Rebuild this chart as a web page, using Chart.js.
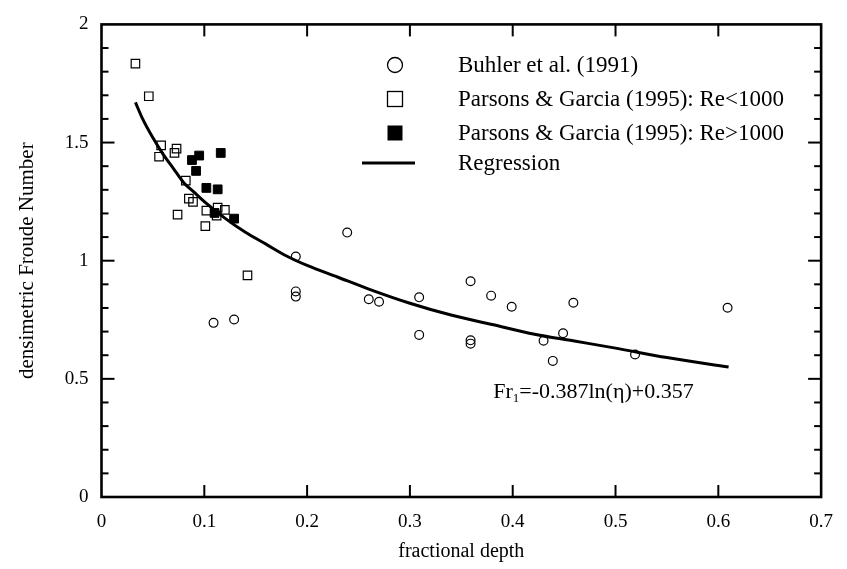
<!DOCTYPE html>
<html><head><meta charset="utf-8">
<script src="https://cdn.jsdelivr.net/npm/chart.js@4.4.1/dist/chart.umd.min.js"></script>
<style>html,body{margin:0;padding:0;background:#fff}#wrap{width:847px;height:569px}</style>
</head><body><div id="wrap"><canvas id="c" width="847" height="569"></canvas></div>
<script>
// ---- data ----
const seriesLabels = ['Buhler et al. (1991)', 'Parsons & Garcia (1995): Re<1000', 'Parsons & Garcia (1995): Re>1000', 'Regression'];
const buhlerX = [0.109, 0.129, 0.189, 0.189, 0.189, 0.239, 0.260, 0.270, 0.309, 0.309, 0.359, 0.359, 0.359, 0.379, 0.399, 0.459, 0.430, 0.449, 0.439, 0.519, 0.609];
const buhlerY = [0.737, 0.751, 1.018, 0.870, 0.848, 1.119, 0.837, 0.826, 0.845, 0.686, 0.913, 0.663, 0.649, 0.852, 0.805, 0.822, 0.661, 0.693, 0.576, 0.603, 0.801];
const pgLowX = [0.033, 0.046, 0.058, 0.056, 0.071, 0.073, 0.082, 0.085, 0.089, 0.074, 0.102, 0.113, 0.120, 0.112, 0.101, 0.142];
const pgLowY = [1.834, 1.696, 1.488, 1.440, 1.456, 1.474, 1.339, 1.263, 1.249, 1.195, 1.212, 1.225, 1.215, 1.191, 1.146, 0.938];
const pgHighX = [0.088, 0.095, 0.116, 0.092, 0.102, 0.113, 0.129, 0.110];
const pgHighY = [1.426, 1.445, 1.456, 1.380, 1.308, 1.302, 1.178, 1.202];
const regX = [0.033, 0.04, 0.05, 0.06, 0.07, 0.08, 0.09, 0.10, 0.12, 0.14, 0.16, 0.18, 0.20, 0.23, 0.26, 0.30, 0.34, 0.38, 0.42, 0.46, 0.50, 0.55, 0.61];
const regY = [1.67, 1.60, 1.52, 1.45, 1.39, 1.33, 1.29, 1.25, 1.18, 1.12, 1.07, 1.02, 0.98, 0.93, 0.88, 0.82, 0.77, 0.73, 0.69, 0.66, 0.63, 0.59, 0.55];
const xTickLabels = ['0', '0.1', '0.2', '0.3', '0.4', '0.5', '0.6', '0.7'];
const yTickLabels = ['0', '0.5', '1', '1.5', '2'];
const xTitle = 'fractional depth';
const yTitle = 'densimetric Froude Number';
const eqMain = 'Fr', eqSub = '1', eqRest = '=-0.387ln(\u03b7)+0.357';

const pts = (xs, ys) => xs.map((v, i) => ({x: v, y: ys[i]}));
const FONT = '"Liberation Serif", "Times New Roman", serif';

const frameTicks = {
  id: 'frameTicks',
  afterDraw(chart) {
    const {ctx, chartArea: {left, right, top, bottom}, scales: {x, y}} = chart;
    ctx.save();
    ctx.strokeStyle = '#000';
    ctx.lineWidth = 2.6;
    ctx.strokeRect(left, top, right - left, bottom - top);
    ctx.lineWidth = 2;
    const line = (a, b, c, d) => { ctx.beginPath(); ctx.moveTo(a, b); ctx.lineTo(c, d); ctx.stroke(); };
    x.ticks.forEach(t => {
      if (t.value <= 1e-9 || t.value >= 0.7 - 1e-9) return;
      const px = x.getPixelForValue(t.value);
      line(px, bottom, px, bottom - 12);
      line(px, top, px, top + 12);
    });
    y.ticks.forEach(t => {
      if (t.value <= 1e-9 || t.value >= 2 - 1e-9) return;
      const py = y.getPixelForValue(t.value);
      const len = t.label !== '' ? 13 : 7;
      line(left, py, left + len, py);
      line(right, py, right - len, py);
    });
    // legend
    const ds = chart.data.datasets;
    const rows = [65, 99, 133, 163];
    const sx = 395, tx = 458;
    ctx.font = '23px ' + FONT;
    ctx.fillStyle = '#000';
    ctx.textBaseline = 'middle';
    ctx.textAlign = 'left';
    ctx.lineWidth = 1.3;
    ctx.beginPath(); ctx.arc(sx, rows[0], 7.5, 0, Math.PI * 2); ctx.stroke();
    ctx.strokeRect(sx - 7.5, rows[1] - 7.5, 15, 15);
    ctx.fillRect(sx - 7.5, rows[2] - 7.5, 15, 15);
    ctx.lineWidth = 2.8;
    line(362, rows[3], 415, rows[3]);
    ds.forEach((d, i) => ctx.fillText(d.label, tx, rows[i] + 1));
    // equation
    const ex = x.getPixelForValue(0.381), ey = y.getPixelForValue(0.418);
    ctx.textBaseline = 'alphabetic';
    ctx.font = '22px ' + FONT;
    ctx.fillText(eqMain, ex, ey);
    let w = ctx.measureText(eqMain).width;
    ctx.font = '13px ' + FONT;
    ctx.fillText(eqSub, ex + w, ey + 4);
    w += ctx.measureText(eqSub).width;
    ctx.font = '22px ' + FONT;
    ctx.fillText(eqRest, ex + w, ey);
    ctx.restore();
  }
};

new Chart(document.getElementById('c'), {
  type: 'scatter',
  data: {
    datasets: [
      {label: seriesLabels[0], data: pts(buhlerX, buhlerY), pointStyle: 'circle', pointRadius: 4.4, borderColor: '#000', backgroundColor: 'rgba(0,0,0,0)', borderWidth: 1.2},
      {label: seriesLabels[1], data: pts(pgLowX, pgLowY), pointStyle: 'rect', pointRadius: 6, borderColor: '#000', backgroundColor: 'rgba(0,0,0,0)', borderWidth: 1.2},
      {label: seriesLabels[2], data: pts(pgHighX, pgHighY), pointStyle: 'rect', pointRadius: 6.2, borderColor: '#000', backgroundColor: '#000', borderWidth: 1},
      {label: seriesLabels[3], data: pts(regX, regY), type: 'line', showLine: true, pointRadius: 0, borderColor: '#000', borderWidth: 3, cubicInterpolationMode: 'monotone', fill: false}
    ]
  },
  options: {
    responsive: false,
    animation: false,
    devicePixelRatio: 1,
    layout: {padding: {left: 0, right: 17, top: 15, bottom: 0}},
    plugins: {legend: {display: false}, tooltip: {enabled: false}},
    scales: {
      x: {
        type: 'linear', min: 0, max: 0.7,
        grid: {display: false, drawTicks: false},
        border: {display: false},
        ticks: {stepSize: 0.1, autoSkip: false, maxRotation: 0, padding: 14, color: '#000',
          font: {family: FONT, size: 19},
          callback: (v) => { const i = Math.round(v * 10); return Math.abs(v * 10 - i) < 1e-6 && xTickLabels[i] !== undefined ? xTickLabels[i] : ''; }},
        title: {display: true, text: xTitle, color: '#000', font: {family: FONT, size: 20}, padding: {top: 0, bottom: 5}},
        afterFit: (s) => { s.height = 72; }
      },
      y: {
        type: 'linear', min: 0, max: 2,
        grid: {display: false, drawTicks: false},
        border: {display: false},
        ticks: {stepSize: 0.1, autoSkip: false, padding: 13, color: '#000',
          font: {family: FONT, size: 19},
          callback: (v) => { const i = Math.round(v * 2); return Math.abs(v * 2 - i) < 1e-6 && yTickLabels[i] !== undefined ? yTickLabels[i] : ''; }},
        title: {display: true, text: yTitle, color: '#000', font: {family: FONT, size: 21}, padding: {top: 15, bottom: 0}},
        afterFit: (s) => { s.width = 101.5; }
      }
    }
  },
  plugins: [frameTicks]
});
</script>
</body></html>
